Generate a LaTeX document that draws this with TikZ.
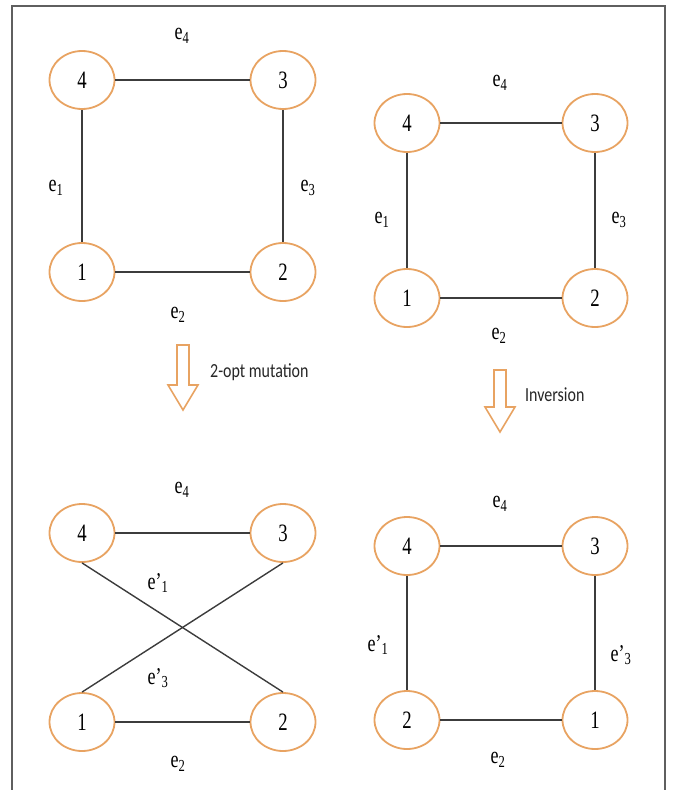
\documentclass[tikz,border=0pt]{standalone}
\usepackage{fontspec}
\setmainfont{Liberation Serif}
\newfontfamily\numfont[FakeStretch=0.75]{Liberation Serif}
\newfontfamily\capfont[FakeStretch=0.8]{Carlito}
\definecolor{nodeorange}{RGB}{232,163,98}
\definecolor{edgegray}{RGB}{60,60,60}
\definecolor{framegray}{RGB}{95,95,95}
\tikzset{
  vert/.style={draw=nodeorange, line width=1.8pt, ellipse, minimum width=65pt, minimum height=58pt, inner sep=0pt, font=\numfont\fontsize{25}{25}\selectfont},
  elabel/.style={inner sep=0pt, font=\numfont\fontsize{24}{24}\selectfont},
  edgeline/.style={draw=edgegray, line width=1.4pt},
  blockarrow/.style={draw=nodeorange, line width=1.6pt, fill=white, line join=miter},
  caption/.style={anchor=west, inner sep=0pt, font=\capfont\fontsize{20}{20}\selectfont, text=black!85}
}
\usetikzlibrary{shapes.geometric}
\begin{document}
\begin{tikzpicture}[x=1pt,y=-1pt]
\useasboundingbox (0,0) rectangle (673,790);
% frame
\draw[framegray, line width=1.4pt] (12,790) -- (12,6) -- (665,6) -- (665,790);

% ---------- top-left graph ----------
\node[vert] (tl4) at (82,80) {4};
\node[vert] (tl3) at (283,80) {3};
\node[vert] (tl1) at (82,272) {1};
\node[vert] (tl2) at (283,272) {2};
\draw[edgeline] (tl4) -- (tl3);
\draw[edgeline] (tl4) -- (tl1);
\draw[edgeline] (tl3) -- (tl2);
\draw[edgeline] (tl1) -- (tl2);
\node[elabel] (tle4) at (182,36) {e\textsubscript{4}};
\node[elabel] (tle1) at (56,188) {e\textsubscript{1}};
\node[elabel] (tle3) at (308,188) {e\textsubscript{3}};
\node[elabel] (tle2) at (178,315) {e\textsubscript{2}};

% ---------- top-right graph ----------
\node[vert] (tr4) at (407,123) {4};
\node[vert] (tr3) at (595,123) {3};
\node[vert] (tr1) at (407,298) {1};
\node[vert] (tr2) at (595,298) {2};
\draw[edgeline] (tr4) -- (tr3);
\draw[edgeline] (tr4) -- (tr1);
\draw[edgeline] (tr3) -- (tr2);
\draw[edgeline] (tr1) -- (tr2);
\node[elabel] (tre4) at (500,83) {e\textsubscript{4}};
\node[elabel] (tre1) at (382,220) {e\textsubscript{1}};
\node[elabel] (tre3) at (619,220) {e\textsubscript{3}};
\node[elabel] (tre2) at (499,336) {e\textsubscript{2}};

% ---------- arrows ----------
\draw[blockarrow] (177,345) -- (189,345) -- (189,385) -- (198,385) -- (183,410) -- (168,385) -- (177,385) -- cycle;
\node[caption] (mut) at (210,372) {2-opt mutation};
\draw[blockarrow] (494,370) -- (506,370) -- (506,407) -- (515,407) -- (500,432) -- (485,407) -- (494,407) -- cycle;
\node[caption] (inv) at (525,395) {Inversion};

% ---------- bottom-left graph ----------
\node[vert] (bl4) at (82,533) {4};
\node[vert] (bl3) at (283,533) {3};
\node[vert] (bl1) at (82,722) {1};
\node[vert] (bl2) at (283,722) {2};
\draw[edgeline] (bl4) -- (bl3);
\draw[edgeline] (bl1) -- (bl2);
\draw[edgeline] (bl4.south) -- (bl2.north);
\draw[edgeline] (bl1.north) -- (bl3.south);
\node[elabel] (ble4) at (182,490) {e\textsubscript{4}};
\node[elabel] (ble1) at (158,583) {e’\textsubscript{1}};
\node[elabel] (ble3) at (158,678) {e’\textsubscript{3}};
\node[elabel] (ble2) at (178,764) {e\textsubscript{2}};

% ---------- bottom-right graph ----------
\node[vert] (br4) at (407,546) {4};
\node[vert] (br3) at (595,546) {3};
\node[vert] (br2) at (407,720) {2};
\node[vert] (br1) at (595,720) {1};
\draw[edgeline] (br4) -- (br3);
\draw[edgeline] (br4) -- (br2);
\draw[edgeline] (br3) -- (br1);
\draw[edgeline] (br2) -- (br1);
\node[elabel] (bre4) at (500,504) {e\textsubscript{4}};
\node[elabel] (bre1) at (378,645) {e’\textsubscript{1}};
\node[elabel] (bre3) at (621,655) {e’\textsubscript{3}};
\node[elabel] (bre2) at (498,760) {e\textsubscript{2}};
\end{tikzpicture}
\end{document}
